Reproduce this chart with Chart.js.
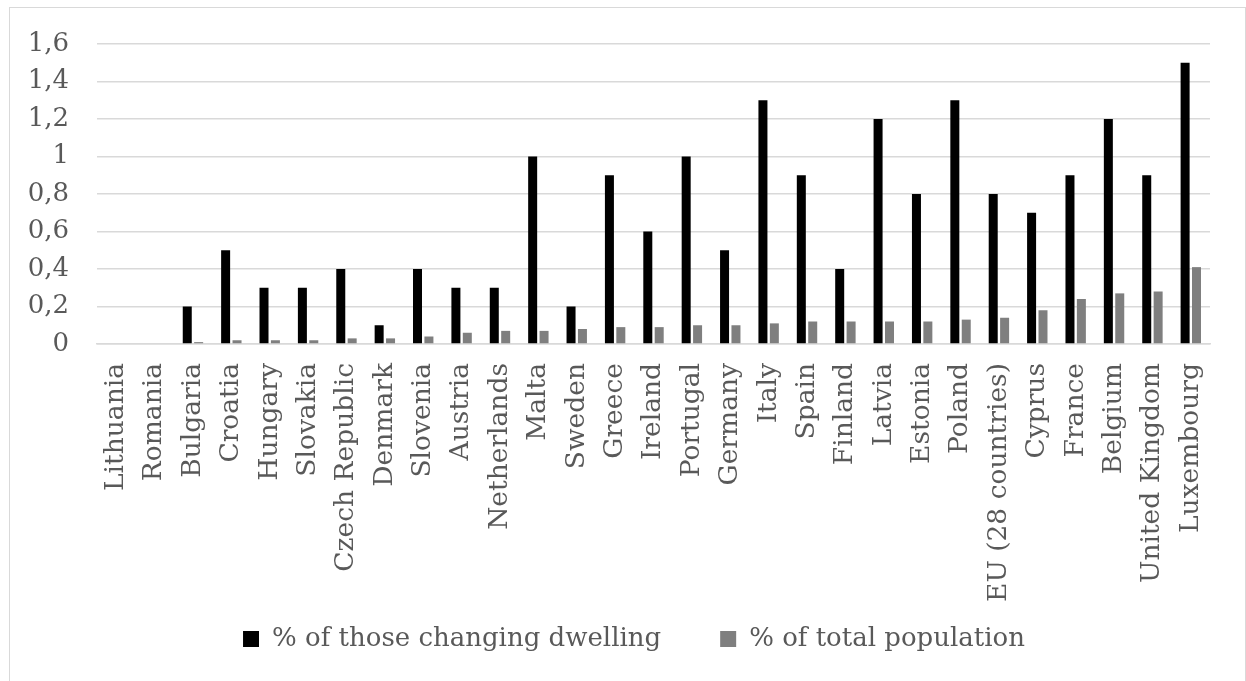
<!DOCTYPE html>
<html>
<head>
<meta charset="utf-8">
<script src="https://cdn.jsdelivr.net/npm/chart.js@4.4.1/dist/chart.umd.min.js"></script>
<style>
  html, body { margin: 0; padding: 0; background: #ffffff; }
  #wrap { position: relative; width: 1246px; height: 681px; overflow: hidden; }
  #frame { position: absolute; left: 9px; top: 7px; width: 1237px; height: 700px;
           border: 1.5px solid #d9d9d9; box-sizing: border-box; }
  #c { position: absolute; left: 0; top: 0; }
</style>
</head>
<body>
<div id="wrap">
  <div id="frame"></div>
  <canvas id="c" width="1246" height="681"></canvas>
</div>
<script>
// Countries, ordered by share of the total population
const countries = [
  'Lithuania', 'Romania', 'Bulgaria', 'Croatia', 'Hungary', 'Slovakia',
  'Czech Republic', 'Denmark', 'Slovenia', 'Austria', 'Netherlands', 'Malta',
  'Sweden', 'Greece', 'Ireland', 'Portugal', 'Germany', 'Italy', 'Spain',
  'Finland', 'Latvia', 'Estonia', 'Poland', 'EU (28 countries)', 'Cyprus',
  'France', 'Belgium', 'United Kingdom', 'Luxembourg'
];

// % of those changing dwelling
const changingDwelling = [
  0, 0, 0.2, 0.5, 0.3, 0.3,
  0.4, 0.1, 0.4, 0.3, 0.3, 1.0,
  0.2, 0.9, 0.6, 1.0, 0.5, 1.3, 0.9,
  0.4, 1.2, 0.8, 1.3, 0.8, 0.7,
  0.9, 1.2, 0.9, 1.5
];

// % of total population
const totalPopulation = [
  0, 0, 0.01, 0.02, 0.02, 0.02,
  0.03, 0.03, 0.04, 0.06, 0.07, 0.07,
  0.08, 0.09, 0.09, 0.10, 0.10, 0.11, 0.12,
  0.12, 0.12, 0.12, 0.13, 0.14, 0.18,
  0.24, 0.27, 0.28, 0.41
];

const seriesNames = ['% of those changing dwelling', '% of total population'];

// Value-axis labels use a decimal comma
const yTickLabels = ['0', '0,2', '0,4', '0,6', '0,8', '1', '1,2', '1,4', '1,6'];

const FAMILY = "'DejaVu Serif', 'Liberation Serif', serif";
const X_FONT = { family: FAMILY, size: 26.5 };
const LEGEND_FONT = { family: FAMILY, size: 26 };
const TICK_FONT = { family: FAMILY, size: 26 };
const TEXT = '#595959';
const GRID = '#d9d9d9';
const LEGEND_CENTER_X = 634;

// After layout: let the rotated country names run below the axis box,
// and centre the legend row under the framed chart.
const layoutTweaks = {
  id: 'layoutTweaks',
  afterLayout(chart) {
    chart.scales.x.bottom = chart.height;
    const lg = chart.legend;
    if (!lg || !lg.lineWidths) return;
    const p = lg.options.labels.padding;
    const rowWidth = lg.lineWidths[0] - p;
    const start = (lg.left + p + lg.right - lg.lineWidths[0]) / 2;
    const shift = (LEGEND_CENTER_X - rowWidth / 2) - start;
    lg.left += shift;
    lg.right += shift;
  }
};

new Chart(document.getElementById('c'), {
  type: 'bar',
  data: {
    labels: countries,
    datasets: [
      { label: seriesNames[0], data: changingDwelling, backgroundColor: '#000000',
        borderWidth: 0, categoryPercentage: 0.594, barPercentage: 0.79 },
      { label: seriesNames[1], data: totalPopulation, backgroundColor: '#7f7f7f',
        borderWidth: 0, categoryPercentage: 0.594, barPercentage: 0.79 }
    ]
  },
  plugins: [layoutTweaks],
  options: {
    responsive: false,
    animation: false,
    devicePixelRatio: 1,
    layout: { padding: { left: 0, right: 36, top: 44, bottom: 19 } },
    plugins: {
      title: { display: false },
      tooltip: { enabled: false },
      legend: {
        display: true,
        position: 'bottom',
        align: 'center',
        labels: {
          font: LEGEND_FONT,
          color: TEXT,
          boxWidth: 16,
          boxHeight: 16,
          padding: 59
        }
      }
    },
    scales: {
      x: {
        afterFit: (s) => { s.height = 223; },
        grid: { display: false, drawTicks: false },
        border: { display: true, color: GRID, width: 1.5 },
        ticks: {
          font: X_FONT,
          color: TEXT,
          autoSkip: false,
          minRotation: 90,
          maxRotation: 90,
          padding: 19
        }
      },
      y: {
        min: 0,
        max: 1.6,
        afterFit: (s) => { s.width = 97; },
        grid: { color: GRID, lineWidth: 1.5, drawTicks: false },
        border: { display: false },
        ticks: {
          stepSize: 0.2,
          font: TICK_FONT,
          color: TEXT,
          padding: 28,
          callback: (v, i) => yTickLabels[i]
        }
      }
    }
  }
});
</script>
</body>
</html>
